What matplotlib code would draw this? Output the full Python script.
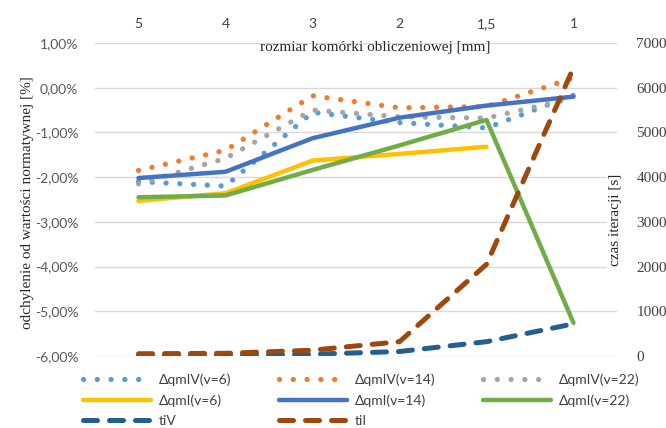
import matplotlib
matplotlib.use('Agg')
import matplotlib.pyplot as plt
from matplotlib.ticker import FuncFormatter

# cell size categories (top axis) and series
sizes = ['5', '4', '3', '2', '1,5', '1']
dqmIV_v6 = [-2.10, -2.20, -0.55, -0.78, -0.90, -0.17]
dqmIV_v14 = [-1.85, -1.40, -0.18, -0.45, -0.42, 0.22]
dqmIV_v22 = [-2.15, -1.58, -0.50, -0.65, -0.68, -0.23]
dqmI_v6 = [-2.53, -2.36, -1.63, -1.48, -1.32]
dqmI_v14 = [-2.02, -1.88, -1.13, -0.67, -0.40, -0.20]
dqmI_v22 = [-2.45, -2.41, -1.84, -1.29, -0.72, -5.26]
tiV = [10, 15, 40, 100, 320, 720]
tiI = [50, 60, 130, 320, 2050, 6450]

W, H = 666, 428
fig = plt.figure(figsize=(W / 100, H / 100), dpi=100)
L, R, T, B = 95, 617, 43, 356
ax = fig.add_axes([L / W, 1 - B / H, (R - L) / W, (B - T) / H])
ax2 = ax.twinx()

sans = ['Lato', 'DejaVu Sans']
serif = 'Liberation Serif'
tick_col = '#595959'

x = list(range(len(sizes)))
dot = (0, (0.01, 2.6))
dash = (0, (2.8, 2.4))

h = []
h += ax.plot(x, dqmIV_v6, color='#5B9BD5', lw=3.8, ls=dot, dash_capstyle='round', label='ΔqmIV(v=6)')
h += ax.plot(x, dqmIV_v14, color='#ED7D31', lw=3.8, ls=dot, dash_capstyle='round', label='ΔqmIV(v=14)')
h += ax.plot(x, dqmIV_v22, color='#A5A5A5', lw=3.8, ls=dot, dash_capstyle='round', label='ΔqmIV(v=22)')
h += ax.plot(x[:len(dqmI_v6)], dqmI_v6, color='#FFC000', lw=3.2, solid_capstyle='round', label='ΔqmI(v=6)')
h += ax.plot(x, dqmI_v14, color='#4472C4', lw=3.2, solid_capstyle='round', label='ΔqmI(v=14)')
h += ax.plot(x, dqmI_v22, color='#70AD47', lw=3.2, solid_capstyle='round', label='ΔqmI(v=22)')
h += ax2.plot(x, tiV, color='#255E91', lw=3.6, ls=dash, dash_capstyle='round', label='tiV')
h += ax2.plot(x, tiI, color='#9E480E', lw=3.6, ls=dash, dash_capstyle='round', label='tiI')

ax.set_xlim(-0.5, len(sizes) - 0.5)
ax.set_ylim(-6, 1)
ax.set_yticks(range(-6, 2))
ax.yaxis.set_major_formatter(FuncFormatter(lambda v, p: f'{v:.2f}%'.replace('.', ',')))
ax2.set_ylim(0, 7000)
ax2.set_yticks(range(0, 7001, 1000))

ax.set_xticks(x)
ax.set_xticklabels(sizes)
ax.xaxis.tick_top()
ax.tick_params(axis='x', length=0, pad=9, labelsize=10, labelcolor='#404040')
for lab in ax.get_xticklabels():
    lab.set_family(sans)
ax.tick_params(axis='y', length=0, pad=12, labelsize=10, labelcolor=tick_col)
for lab in ax.get_yticklabels():
    lab.set_family(sans)
ax2.tick_params(axis='y', length=0, pad=14, labelsize=11, labelcolor='#404040')
for lab in ax2.get_yticklabels():
    lab.set_family(serif)

ax.grid(axis='y', color='#D9D9D9', lw=1)
ax.set_axisbelow(True)
for a in (ax, ax2):
    for s in a.spines.values():
        s.set_visible(False)

fig.text(375 / W, 1 - 47 / H, 'rozmiar komórki obliczeniowej [mm]', family=serif,
         fontsize=11, ha='center', va='center', color='#262626')
fig.text(28 / W, 1 - 203 / H, 'odchylenie od wartości normatywnej [%]', family=serif,
         fontsize=11, ha='center', va='center', rotation=90, color='#262626')
fig.text(615 / W, 1 - 220 / H, 'czas iteracji [s]', family=serif, fontsize=11,
         ha='center', va='center', rotation=90, color='#262626',
         bbox=dict(facecolor='white', edgecolor='none', pad=1))

order = [0, 3, 6, 1, 4, 7, 2, 5]
fig.legend([h[i] for i in order], [h[i].get_label() for i in order],
           ncol=3, loc='upper left', bbox_to_anchor=(70 / W, 1 - 361 / H),
           frameon=False, handlelength=4.9, handletextpad=0.6, columnspacing=3.4,
           labelspacing=0.6, prop={'family': sans, 'size': 10}, labelcolor='#404040')

fig.savefig('out.png', dpi=100)
